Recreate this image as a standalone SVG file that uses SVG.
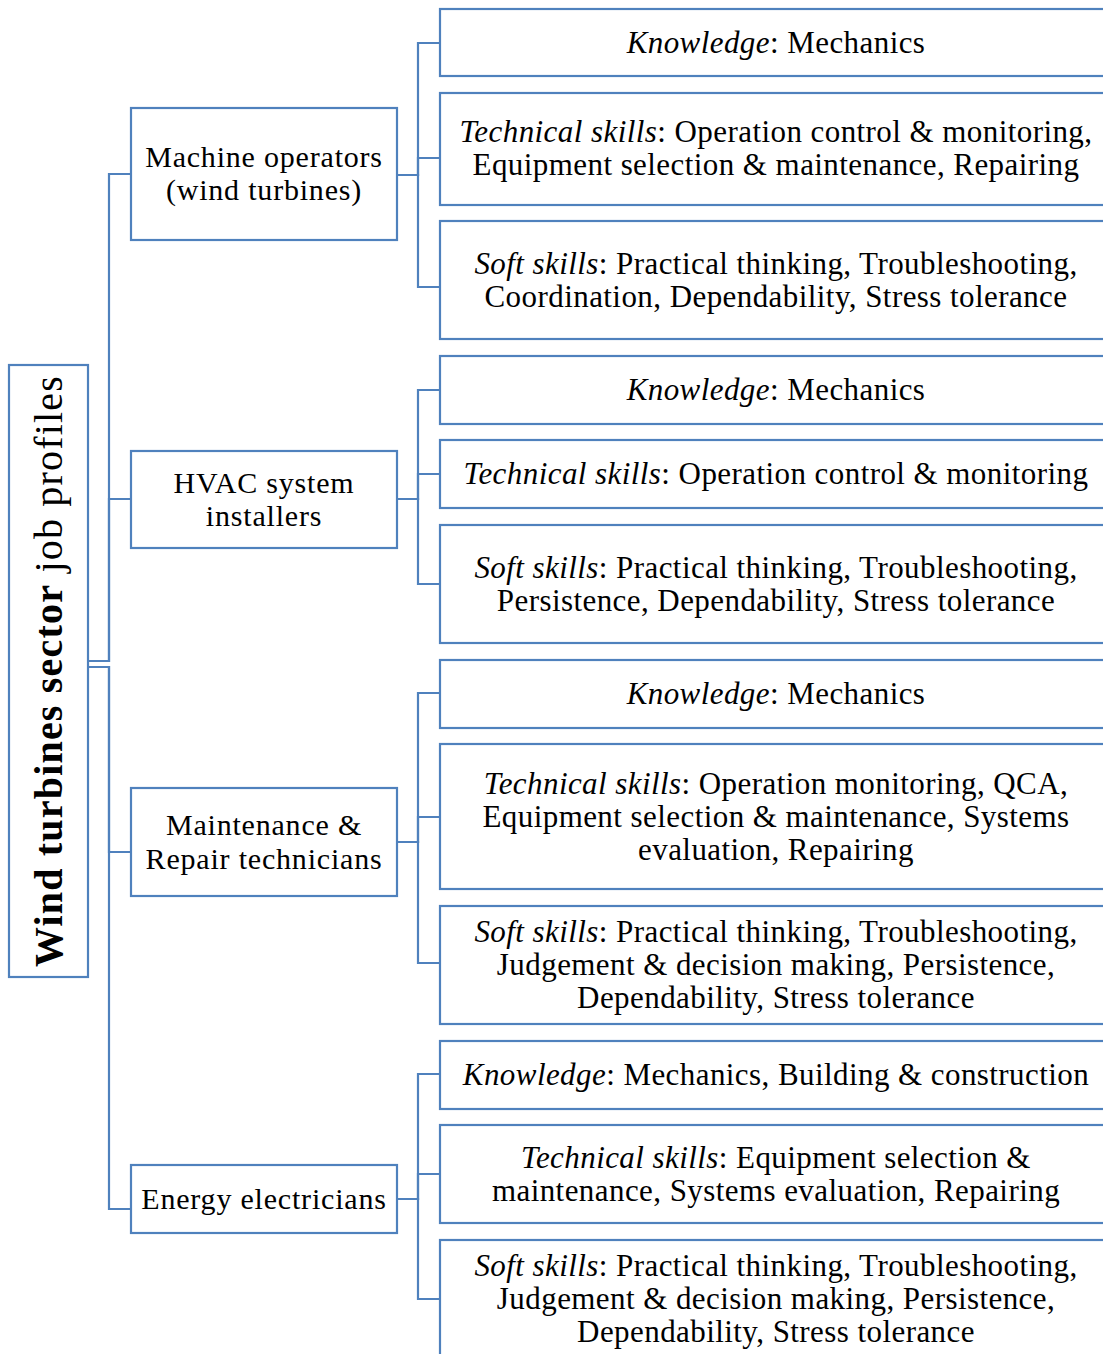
<svg xmlns="http://www.w3.org/2000/svg" width="1103" height="1354" viewBox="0 0 1103 1354">
<style>
.box{fill:#fff;stroke:#4F81BD;stroke-width:2.2}
.con{fill:none;stroke:#4F81BD;stroke-width:2.2}
.t{font-family:"Liberation Serif","Times New Roman",serif;font-size:31px;letter-spacing:0.43px;fill:#000;text-anchor:middle}
.c{font-family:"Liberation Serif","Times New Roman",serif;font-size:30px;letter-spacing:0.8px;fill:#000;text-anchor:middle}
.r{font-family:"Liberation Serif","Times New Roman",serif;font-size:40px;letter-spacing:1.2px;fill:#000;text-anchor:middle}
.i{font-style:italic}
.b{font-weight:bold}
</style>
<rect width="1103" height="1354" fill="#fff"/>
<g id="connectors">
<path class="con" d="M88,661 H109 V174 H131"/>
<path class="con" d="M88,661 H109 V499 H131"/>
<path class="con" d="M88,667 H109 V852 H131"/>
<path class="con" d="M88,667 H109 V1209 H131"/>
<path class="con" d="M397,175 H418 V43 H440"/>
<path class="con" d="M397,175 H418 V158 H440"/>
<path class="con" d="M397,175 H418 V287 H440"/>
<path class="con" d="M397,499 H418 V390 H440"/>
<path class="con" d="M397,499 H418 V474 H440"/>
<path class="con" d="M397,499 H418 V584 H440"/>
<path class="con" d="M397,842 H418 V693 H440"/>
<path class="con" d="M397,842 H418 V817 H440"/>
<path class="con" d="M397,842 H418 V963 H440"/>
<path class="con" d="M397,1199 H418 V1074 H440"/>
<path class="con" d="M397,1199 H418 V1174 H440"/>
<path class="con" d="M397,1199 H418 V1299 H440"/>
</g>
<g id="root">
<rect class="box" x="9" y="365" width="79" height="612"/>
<text class="r" x="62" y="671" transform="rotate(-90 62 671)"><tspan class="b">Wind turbines sector</tspan> job profiles</text>
</g>
<g id="cat1">
<rect class="box" x="131" y="108" width="266" height="132"/>
<text class="c" x="264" y="167">Machine operators</text>
<text class="c" x="264" y="200">(wind turbines)</text>
</g>
<g id="cat2">
<rect class="box" x="131" y="451" width="266" height="97"/>
<text class="c" x="264" y="493">HVAC system</text>
<text class="c" x="264" y="526">installers</text>
</g>
<g id="cat3">
<rect class="box" x="131" y="788" width="266" height="108"/>
<text class="c" x="264" y="835">Maintenance &amp;</text>
<text class="c" x="264" y="869">Repair technicians</text>
</g>
<g id="cat4">
<rect class="box" x="131" y="1165" width="266" height="68"/>
<text class="c" x="264" y="1209">Energy electricians</text>
</g>
<g id="g1k">
<rect class="box" x="440" y="9" width="680" height="67"/>
<text class="t" x="776" y="53"><tspan class="i">Knowledge</tspan>: Mechanics</text>
</g>
<g id="g1t">
<rect class="box" x="440" y="93" width="680" height="112"/>
<text class="t" x="776" y="142"><tspan class="i">Technical skills</tspan>: Operation control &amp; monitoring,</text>
<text class="t" x="776" y="175">Equipment selection &amp; maintenance, Repairing</text>
</g>
<g id="g1s">
<rect class="box" x="440" y="221" width="680" height="118"/>
<text class="t" x="776" y="274"><tspan class="i">Soft skills</tspan>: Practical thinking, Troubleshooting,</text>
<text class="t" x="776" y="307">Coordination, Dependability, Stress tolerance</text>
</g>
<g id="g2k">
<rect class="box" x="440" y="356" width="680" height="68"/>
<text class="t" x="776" y="400"><tspan class="i">Knowledge</tspan>: Mechanics</text>
</g>
<g id="g2t">
<rect class="box" x="440" y="440" width="680" height="68"/>
<text class="t" x="776" y="484"><tspan class="i">Technical skills</tspan>: Operation control &amp; monitoring</text>
</g>
<g id="g2s">
<rect class="box" x="440" y="525" width="680" height="118"/>
<text class="t" x="776" y="578"><tspan class="i">Soft skills</tspan>: Practical thinking, Troubleshooting,</text>
<text class="t" x="776" y="611">Persistence, Dependability, Stress tolerance</text>
</g>
<g id="g3k">
<rect class="box" x="440" y="660" width="680" height="68"/>
<text class="t" x="776" y="704"><tspan class="i">Knowledge</tspan>: Mechanics</text>
</g>
<g id="g3t">
<rect class="box" x="440" y="744" width="680" height="145"/>
<text class="t" x="776" y="794"><tspan class="i">Technical skills</tspan>: Operation monitoring, QCA,</text>
<text class="t" x="776" y="827">Equipment selection &amp; maintenance, Systems</text>
<text class="t" x="776" y="860">evaluation, Repairing</text>
</g>
<g id="g3s">
<rect class="box" x="440" y="906" width="680" height="118"/>
<text class="t" x="776" y="942"><tspan class="i">Soft skills</tspan>: Practical thinking, Troubleshooting,</text>
<text class="t" x="776" y="975">Judgement &amp; decision making, Persistence,</text>
<text class="t" x="776" y="1008">Dependability, Stress tolerance</text>
</g>
<g id="g4k">
<rect class="box" x="440" y="1041" width="680" height="68"/>
<text class="t" x="776" y="1085"><tspan class="i">Knowledge</tspan>: Mechanics, Building &amp; construction</text>
</g>
<g id="g4t">
<rect class="box" x="440" y="1125" width="680" height="98"/>
<text class="t" x="776" y="1168"><tspan class="i">Technical skills</tspan>: Equipment selection &amp;</text>
<text class="t" x="776" y="1201">maintenance, Systems evaluation, Repairing</text>
</g>
<g id="g4s">
<rect class="box" x="440" y="1240" width="680" height="140"/>
<text class="t" x="776" y="1276"><tspan class="i">Soft skills</tspan>: Practical thinking, Troubleshooting,</text>
<text class="t" x="776" y="1309">Judgement &amp; decision making, Persistence,</text>
<text class="t" x="776" y="1342">Dependability, Stress tolerance</text>
</g>
</svg>
